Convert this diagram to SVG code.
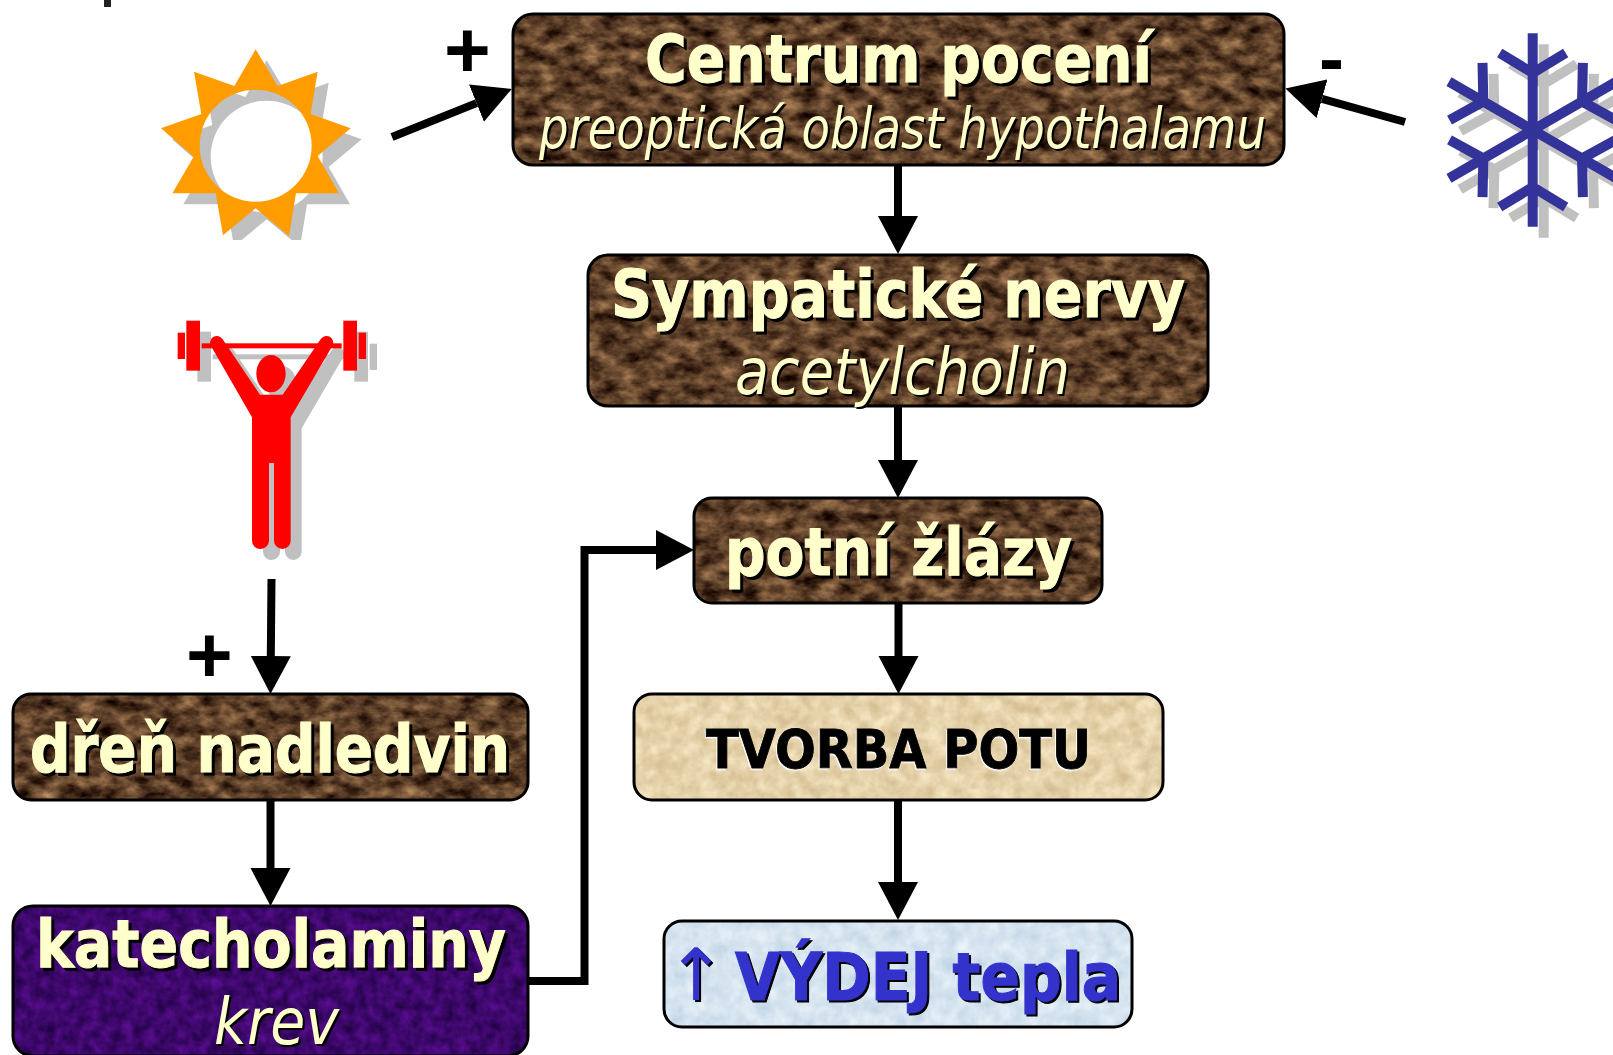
<svg xmlns="http://www.w3.org/2000/svg" xmlns:xlink="http://www.w3.org/1999/xlink" width="1613" height="1055" viewBox="0 0 1613 1055">
<style>
text{font-family:"DejaVu Sans Condensed","DejaVu Sans","Liberation Sans",sans-serif;text-anchor:start}
.b{font-weight:700;font-size:66px;fill:#ffffcc;stroke:#ffffcc;stroke-width:1;filter:url(#sh3)}
.i{font-style:italic;font-weight:400;fill:#ffffcc;filter:url(#sh2)}
.sign{font-family:"Liberation Sans",Arial,sans-serif;font-weight:700;fill:#000}
.edge{fill:none;stroke:#000;stroke-width:3}
.c{fill:none;stroke:#000;stroke-width:8;marker-end:url(#head)}
</style>
<defs>
<marker id="head" markerUnits="userSpaceOnUse" markerWidth="40" markerHeight="42" refX="0" refY="20.5" orient="auto" viewBox="0 0 40 41"><path d="M0 .5L38 20.5L0 40.5z" fill="#000"/></marker>
<filter id="sh3" x="-5%" y="-10%" width="110%" height="120%" color-interpolation-filters="sRGB"><feDropShadow dx="3" dy="3" stdDeviation="0" flood-color="#000"/></filter>
<filter id="sh2" x="-5%" y="-10%" width="110%" height="120%" color-interpolation-filters="sRGB"><feDropShadow dx="2" dy="2" stdDeviation="0" flood-color="#000"/></filter>
<filter id="shw" x="-5%" y="-10%" width="110%" height="120%" color-interpolation-filters="sRGB"><feDropShadow dx="-1" dy="1.5" stdDeviation="0" flood-color="#fff"/></filter>
<filter id="brown" x="0" y="0" width="100%" height="100%" color-interpolation-filters="sRGB"><feTurbulence type="fractalNoise" baseFrequency=".05 .08" numOctaves="5" seed="7"/><feColorMatrix values=".85 0 0 0 -.06  .7 0 0 0 -.1  .5 0 0 0 -.09  0 0 0 0 1"/><feComposite in2="SourceGraphic" operator="in"/></filter>
<filter id="purple" x="0" y="0" width="100%" height="100%" color-interpolation-filters="sRGB"><feTurbulence type="fractalNoise" baseFrequency=".09" numOctaves="4" seed="3"/><feColorMatrix values=".3 0 0 0 .09  .06 0 0 0 0  .4 0 0 0 .22  0 0 0 0 1"/><feComposite in2="SourceGraphic" operator="in"/></filter>
<filter id="tan" x="0" y="0" width="100%" height="100%" color-interpolation-filters="sRGB"><feTurbulence type="fractalNoise" baseFrequency=".07" numOctaves="4" seed="5"/><feColorMatrix values=".2 0 0 0 .8  .25 0 0 0 .7  .3 0 0 0 .52  0 0 0 0 1"/><feComposite in2="SourceGraphic" operator="in"/></filter>
<filter id="blue" x="0" y="0" width="100%" height="100%" color-interpolation-filters="sRGB"><feTurbulence type="fractalNoise" baseFrequency=".07" numOctaves="4" seed="9"/><feColorMatrix values=".2 0 0 0 .74  .15 0 0 0 .82  .1 0 0 0 .89  0 0 0 0 1"/><feComposite in2="SourceGraphic" operator="in"/></filter>
<clipPath id="sunclip"><rect x="0" y="0" width="520" height="240"/></clipPath>
<path id="sunshape" fill-rule="evenodd" transform="scale(.33333)" d="M767 148L833 258L953 215L932 342L1052 385L953 468L1017 580L888 580L867 708L767 625L669 706L647 580L517 580L581 470L483 385L604 342L582 215L703 258ZM935 437A168 168 0 1 0 599 437A168 168 0 1 0 935 437Z"/>
<g id="liftershape" transform="translate(150 300) scale(.33333)">
<rect x="109" y="62" width="41" height="150"/><rect x="83" y="98" width="22" height="79"/><rect x="580" y="62" width="41" height="150"/><rect x="626" y="98" width="22" height="79"/><rect x="155" y="130" width="420" height="15"/>
<ellipse cx="363" cy="221" rx="44" ry="56"/>
<path d="M183 138A19 19 0 0 1 218 118L330 284L398 284L512 118A19 19 0 0 1 547 138L422 352L422 722A25 25 0 0 1 397 747A25 25 0 0 1 372 722L372 489L357 489L357 722A25 25 0 0 1 332 747A25 25 0 0 1 306 722L306 352Z"/>
</g>
<path id="spoke" fill="none" stroke-width="10" d="M0 0V-96.7M0 -57L-33 -77M0 -57L33 -77"/>
<g id="flake"><use href="#spoke"/><use href="#spoke" transform="rotate(60)"/><use href="#spoke" transform="rotate(120)"/><use href="#spoke" transform="rotate(180)"/><use href="#spoke" transform="rotate(240)"/><use href="#spoke" transform="rotate(300)"/></g>
</defs>
<rect width="1613" height="1055" fill="#fff"/>
<rect id="corner-mark" x="104" y="0" width="7" height="7" fill="#222"/>

<g id="sun">
<g clip-path="url(#sunclip)"><use href="#sunshape" transform="translate(11 11)" fill="#c0c0c0"/></g>
<use href="#sunshape" fill="#ff9c00"/>
</g>
<g id="snowflake">
<use href="#flake" transform="translate(1543.7 141)" stroke="#c0c0c0"/>
<use href="#flake" transform="translate(1532.7 130)" stroke="#333399"/>
</g>
<g id="weightlifter">
<use href="#liftershape" transform="translate(11 11)" fill="#c0c0c0"/>
<use href="#liftershape" fill="#ff0000"/>
</g>

<g id="connectors">
<line class="c" x1="392" y1="137" x2="476.5" y2="103.100"/>
<line class="c" x1="1405" y1="122" x2="1322" y2="98.800"/>
<line class="c" x1="898" y1="165" x2="898" y2="216"/>
<line class="c" x1="898" y1="406" x2="898" y2="460"/>
<line class="c" x1="898.500" y1="603" x2="898.500" y2="656"/>
<line class="c" x1="898" y1="800" x2="898" y2="882"/>
<line class="c" x1="271.500" y1="579" x2="270.800" y2="656"/>
<line class="c" x1="270.500" y1="800" x2="270.500" y2="868"/>
<path class="c" d="M529 981H584.500V550H656"/>
</g>

<g id="sign-plus-1"><text class="sign" x="444" y="77" font-size="80">+</text></g>
<g id="sign-minus"><text class="sign" x="1319" y="84" font-size="75">-</text></g>
<g id="sign-plus-2"><text class="sign" x="186" y="682" font-size="80">+</text></g>

<g id="centrum">
<rect x="513" y="14" width="771" height="151" rx="20" filter="url(#brown)"/><rect class="edge" x="513" y="14" width="771" height="151" rx="20"/>
<text class="b" x="645" y="82" textLength="507" lengthAdjust="spacingAndGlyphs">Centrum pocení</text>
<text class="i" x="539" y="148" font-size="57" textLength="727" lengthAdjust="spacingAndGlyphs">preoptická oblast hypothalamu</text>
</g>
<g id="sympaticke">
<rect x="588" y="255" width="620" height="151" rx="20" filter="url(#brown)"/><rect class="edge" x="588" y="255" width="620" height="151" rx="20"/>
<text class="b" x="611" y="317" textLength="574" lengthAdjust="spacingAndGlyphs">Sympatické nervy</text>
<text class="i" x="735" y="394" font-size="64" textLength="335" lengthAdjust="spacingAndGlyphs">acetylcholin</text>
</g>
<g id="potni">
<rect x="694" y="498" width="408" height="105" rx="18" filter="url(#brown)"/><rect class="edge" x="694" y="498" width="408" height="105" rx="18"/>
<text class="b" x="725" y="575" textLength="347" lengthAdjust="spacingAndGlyphs">potní žlázy</text>
</g>
<g id="tvorba">
<rect x="634" y="694" width="529" height="106" rx="18" filter="url(#tan)"/><rect class="edge" x="634" y="694" width="529" height="106" rx="18"/>
<text x="706" y="768" font-size="53" font-weight="700" fill="#000" stroke="#000" stroke-width=".8" filter="url(#shw)" textLength="385" lengthAdjust="spacingAndGlyphs">TVORBA POTU</text>
</g>
<g id="vydej">
<rect x="664" y="921" width="468" height="106" rx="18" filter="url(#blue)"/><rect class="edge" x="664" y="921" width="468" height="106" rx="18"/>
<text x="666" y="1000" font-size="72" fill="#3333cc" filter="url(#sh2)"><tspan font-family="DejaVu Sans" font-weight="400">↑</tspan><tspan x="735" font-size="66" font-weight="700" stroke="#3333cc" stroke-width="1" textLength="386" lengthAdjust="spacingAndGlyphs">VÝDEJ tepla</tspan></text>
</g>
<g id="dren">
<rect x="13" y="694" width="515" height="106" rx="18" filter="url(#brown)"/><rect class="edge" x="13" y="694" width="515" height="106" rx="18"/>
<text class="b" x="30" y="772" textLength="480" lengthAdjust="spacingAndGlyphs">dřeň nadledvin</text>
</g>
<g id="katecholaminy">
<rect x="13" y="906" width="515" height="150" rx="20" filter="url(#purple)"/><rect class="edge" x="13" y="906" width="515" height="150" rx="20"/>
<text class="b" x="36" y="967" textLength="470" lengthAdjust="spacingAndGlyphs">katecholaminy</text>
<text class="i" x="214" y="1044" font-size="64" textLength="125" lengthAdjust="spacingAndGlyphs">krev</text>
</g>
</svg>
